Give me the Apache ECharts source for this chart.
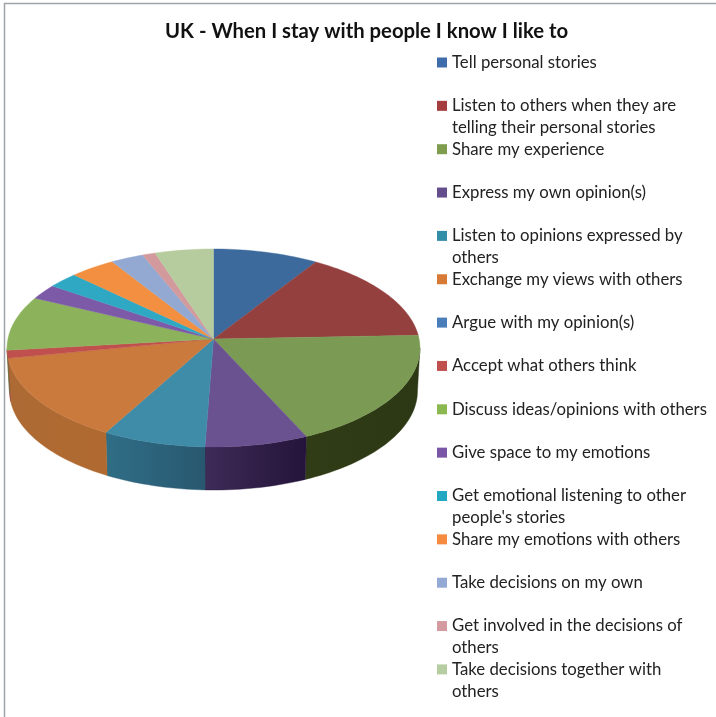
<!DOCTYPE html>
<html>
<head>
<meta charset="utf-8">
<style>html,body{margin:0;padding:0;background:#fff}#chart{width:716px;height:717px}</style>
<script src="https://cdn.jsdelivr.net/npm/echarts@6/dist/echarts.min.js"></script>
</head>
<body>
<div id="chart"></div>
<script>
// Share of answers per statement, in percent
const categories = [
  'Tell personal stories',
  'Listen to others when they are telling their personal stories',
  'Share my experience',
  'Express my own opinion(s)',
  'Listen to opinions expressed by others',
  'Exchange my views with others',
  'Argue with my opinion(s)',
  'Accept what others think',
  'Discuss ideas/opinions with others',
  'Give space to my emotions',
  "Get emotional listening to other people's stories",
  'Share my emotions with others',
  'Take decisions on my own',
  'Get involved in the decisions of others',
  'Take decisions together with others'
];
const shares = [9.0, 15.4, 18.8, 7.4, 7.4, 13.9, 0, 1.3, 8.9, 2.5, 2.6, 3.9, 2.8, 1.1, 5.0];
const topColors = ['#3d6a9c', '#94403f', '#7b9a54', '#6a5290', '#3f8ca8', '#cb7a3e', '#4a7ebb', '#c0504d',
  '#8cb35c', '#7d5aa8', '#2fa8c4', '#f28f40', '#93a9d2', '#d29a9c', '#b6cc9e'];
const legendColors = ['#3f6cab', '#a53d3f', '#7f9d4e', '#644d8d', '#338ea8', '#d67a35', '#4a7ebb', '#c0504d',
  '#8cb94f', '#7a56a6', '#22a8c2', '#f48b3f', '#94aad4', '#d39ba0', '#b5cda0'];
const wallLeft = ['#264a6e', '#6a2d2c', '#2f3c16', '#3e2b57', '#2f6e86', '#ad6a34', '#2f5a88', '#8f3a38',
  '#5f7d3c', '#54397a', '#1e7890', '#b0642a', '#67799a', '#a06e70', '#84967a'];
const wallRight = ['#264a6e', '#6a2d2c', '#2c3813', '#24133a', '#285870', '#b06a30', '#2f5a88', '#8f3a38',
  '#5f7d3c', '#54397a', '#1e7890', '#b0642a', '#67799a', '#a06e70', '#84967a'];
const wrappedNames = {
  1: ['Listen to others when they are', 'telling their personal stories'],
  4: ['Listen to opinions expressed by', 'others'],
  10: ['Get emotional listening to other', "people's stories"],
  13: ['Get involved in the decisions of', 'others'],
  14: ['Take decisions together with', 'others']
};
const titleText = 'UK - When I stay with people I know I like to';

// Tilted disc with a slight perspective: k shortens the far half
const disc = { cx: 213.5, cy: 339, rx: 205.6, ry: 98.2, k: 0.0909, depth: 43, baseScale: 0.988 };
const FONT = 'Lato, "Open Sans", sans-serif';

function project(deg) {
  const t = deg * Math.PI / 180;
  const X = Math.sin(t), Z = -Math.cos(t);
  const w = 1 - disc.k * Z;
  return [disc.cx + disc.rx * X / w, disc.cy + disc.ry * Z / w];
}
function base(p) {
  return [disc.cx + (p[0] - disc.cx) * disc.baseScale, p[1] + disc.depth];
}
function arcAngles(a, b) {
  const n = Math.max(2, Math.ceil((b - a) / 1.5));
  const out = [];
  for (let i = 0; i <= n; i++) out.push(a + (b - a) * i / n);
  return out;
}
const total = shares.reduce((s, v) => s + v, 0);
const starts = [];
shares.reduce((acc, v, i) => { starts[i] = acc; return acc + v / total * 360; }, 0);

// Rim range that faces the viewer
const WALL_FROM = 95.2, WALL_TO = 264.8;

function renderSlice(i) {
  return function (params, api) {
    const sweep = api.value(0) / total * 360;
    if (!sweep) return { type: 'group', children: [] };
    const a = starts[i], b = a + sweep;
    const children = [];
    const wa = Math.max(a, WALL_FROM), wb = Math.min(b, WALL_TO);
    if (wb > wa) {
      const rim = arcAngles(wa, wb).map(project);
      const pts = rim.concat(rim.slice().reverse().map(base));
      children.push({
        type: 'polygon',
        shape: { points: pts },
        z2: 1,
        style: {
          fill: new echarts.graphic.LinearGradient(0, 0, 1, 0, [
            { offset: 0, color: wallLeft[i] },
            { offset: 1, color: wallRight[i] }
          ]),
          stroke: wallRight[i], lineWidth: 0.4
        }
      });
    }
    const top = [[disc.cx, disc.cy]].concat(arcAngles(a, b).map(project));
    children.push({
      type: 'polygon',
      shape: { points: top },
      z2: 2,
      style: { fill: topColors[i], stroke: topColors[i], lineWidth: 0.4 }
    });
    return { type: 'group', children };
  };
}

const legendFirstY = 62.5, legendStep = 43.35, lineHeight = 22;
const legends = categories.map((name, i) => ({
  data: [name],
  orient: 'vertical',
  left: 437,
  top: wrappedNames[i] ? legendFirstY + i * legendStep - lineHeight * 1.5 : legendFirstY + i * legendStep - lineHeight / 2,
  icon: 'rect',
  itemWidth: 10,
  itemHeight: 10,
  itemGap: 0,
  padding: 0,
  selectedMode: false,
  // two-line entries carry a blank first line so the marker sits beside the first row of text
  formatter: n => {
    const w = wrappedNames[categories.indexOf(n)];
    return w ? '\n' + w[0] + '\n' + w[1] : n;
  },
  textStyle: { fontFamily: FONT, fontSize: 16.75, lineHeight: lineHeight, color: '#222', padding: [0, 0, 0, 0] }
}));

const chart = echarts.init(document.getElementById('chart'), null, { renderer: 'canvas' });
chart.setOption({
  backgroundColor: '#ffffff',
  animation: false,
  title: {
    text: titleText,
    left: 165,
    top: 21,
    padding: 0,
    textStyle: { fontFamily: FONT, fontSize: 20.3, fontWeight: 700, color: '#111' }
  },
  legend: legends,
  graphic: [{
    type: 'rect',
    silent: true,
    z: 0,
    shape: { x: 4.5, y: 3.5, width: 800, height: 800 },
    style: { fill: 'none', stroke: '#a0a3a8', lineWidth: 1.5 }
  }],
  series: categories.map((name, i) => ({
    type: 'custom',
    name,
    coordinateSystem: 'none',
    silent: true,
    itemStyle: { color: legendColors[i] },
    data: [[shares[i]]],
    renderItem: renderSlice(i)
  }))
});
</script>
</body>
</html>
